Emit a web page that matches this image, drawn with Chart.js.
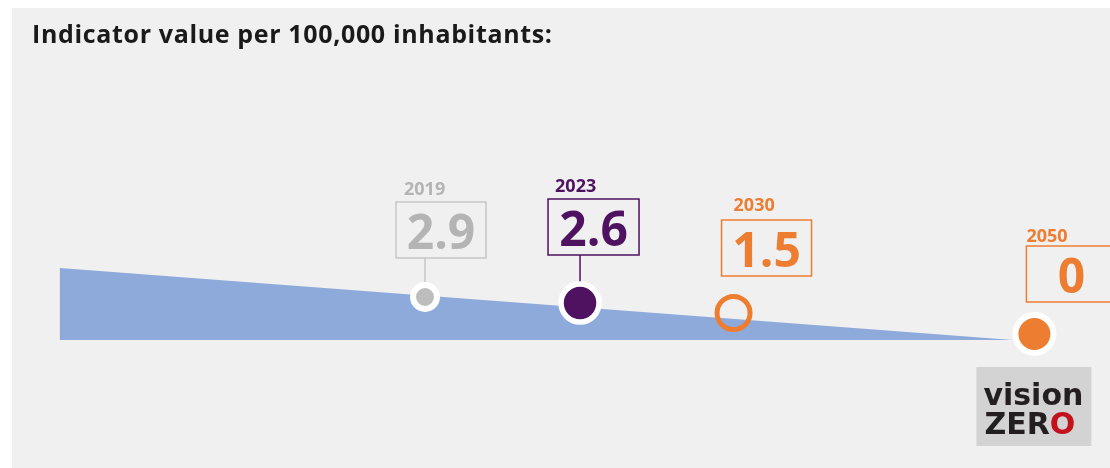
<!DOCTYPE html>
<html>
<head>
<meta charset="utf-8">
<script src="https://cdn.jsdelivr.net/npm/chart.js@4/dist/chart.umd.min.js"></script>
<style>
  html, body { margin: 0; padding: 0; background: #fff; }
  #wrap { position: absolute; left: 12px; top: 8px; width: 1098px; height: 460px; background: #f0f0f0; }
  #title { position: absolute; left: 20px; top: 13px; font: 700 25px/25px "Open Sans", sans-serif; letter-spacing: 0.65px; color: #1a1a1a; white-space: nowrap; }
  canvas { position: absolute; left: 0; top: 0; }
</style>
</head>
<body>
<div id="wrap">
  <canvas id="myChart" width="1098" height="460"></canvas>
  <div id="title">Indicator value per 100,000 inhabitants:</div>
</div>
<script>
// data
var years = ['2019', '2023', '2030', '2050'];
var values = [2.9, 2.6, 1.5, 0];
var slots = [0, 1.01, 2.01, 3.97];    // horizontal position of each year on the band
var heights = [43, 37, 27, 6];        // height of each marker above the band floor
var bandX = [-2.38, 3.83];
var bandH = [72, 0];

// styles
var colors = ['#b4b4b4', '#4e1260', '#ed7d31', '#ed7d31'];
var boxDx = [-29, -32, -12, -8];
var boxDy = [95, 104, 93, 88];
var boxW = [90, 91, 90, 90];
var boxH = 56;
var yearDx = [8, 7, 12, 0];
var yearDy = [7, 7, 9, 4];
var connector = [true, true, false, false];
var markerRadius = [12, 19, 16.5, 19];
var markerBorder = [6, 5.5, 5, 6];

var markerData = [];
for (var i = 0; i < years.length; i++) {
  markerData.push({x: slots[i], y: heights[i]});
}
var bandData = [];
for (var j = 0; j < bandX.length; j++) {
  bandData.push({x: bandX[j], y: bandH[j]});
}

function fmt(v) {
  return v === 0 ? '0' : v.toFixed(1);
}

var labelPlugin = {
  id: 'yearLabels',
  afterDatasetsDraw: function(chart) {
    var ctx = chart.ctx;
    var meta = chart.getDatasetMeta(0);
    ctx.save();
    meta.data.forEach(function(pt, i) {
      var bx = pt.x + boxDx[i];
      var by = pt.y - boxDy[i];
      var c = colors[i];
      // box
      ctx.strokeStyle = i == 0 ? '#c6c6c6' : c;
      ctx.lineWidth = 1.5;
      ctx.strokeRect(bx, by, boxW[i], boxH);
      // connector
      if (connector[i]) {
        ctx.beginPath();
        ctx.moveTo(pt.x, by + boxH);
        ctx.lineTo(pt.x, pt.y - markerRadius[i] - markerBorder[i] / 2);
        ctx.stroke();
      }
      // year
      ctx.fillStyle = c;
      ctx.textAlign = 'left';
      ctx.textBaseline = 'alphabetic';
      ctx.font = '700 18px "Open Sans"';
      ctx.fillText(years[i], bx + yearDx[i], by - yearDy[i]);
      // value
      ctx.textAlign = 'center';
      ctx.font = '700 48px "Open Sans"';
      ctx.fillText(fmt(values[i]), bx + boxW[i] / 2, by + boxH - 9);
    });
    // vision zero logo under the last point
    var last = meta.data[meta.data.length - 1];
    var lx = last.x - 58, ly = last.y + 33;
    ctx.fillStyle = '#d3d3d3';
    ctx.fillRect(lx, ly, 115, 79);
    ctx.textAlign = 'left';
    ctx.font = '700 30px "DejaVu Sans"';
    ctx.fillStyle = '#231f20';
    ctx.fillText('vision', lx + 7, ly + 38);
    ctx.fillText('ZER', lx + 8, ly + 67);
    var w = ctx.measureText('ZER').width;
    ctx.fillStyle = '#c4121c';
    ctx.fillText('O', lx + 8 + w, ly + 67);
    ctx.restore();
  }
};

var ctx = document.getElementById('myChart').getContext('2d');
var chart = new Chart(ctx, {
  type: 'scatter',
  data: {
    datasets: [{
      label: 'markers',
      data: markerData,
      pointRadius: markerRadius,
      pointBorderWidth: markerBorder,
      pointBackgroundColor: ['#bdbdbd', '#4e1260', 'rgba(0,0,0,0)', '#ed7d31'],
      pointBorderColor: ['#ffffff', '#ffffff', '#ed7d31', '#ffffff'],
      showLine: false
    }, {
      label: 'band',
      data: bandData,
      showLine: true,
      fill: 'origin',
      backgroundColor: '#8eaadb',
      borderWidth: 0,
      pointRadius: 0,
      tension: 0
    }]
  },
  options: {
    responsive: false,
    animation: false,
    events: [],
    layout: { padding: 0, autoPadding: false },
    scales: {
      x: { type: 'linear', display: false, min: -2.6906, max: 4.4625 },
      y: { type: 'linear', display: false, min: -128, max: 332 }
    },
    plugins: {
      legend: { display: false },
      tooltip: { enabled: false }
    }
  },
  plugins: [labelPlugin]
});
</script>
</body>
</html>
